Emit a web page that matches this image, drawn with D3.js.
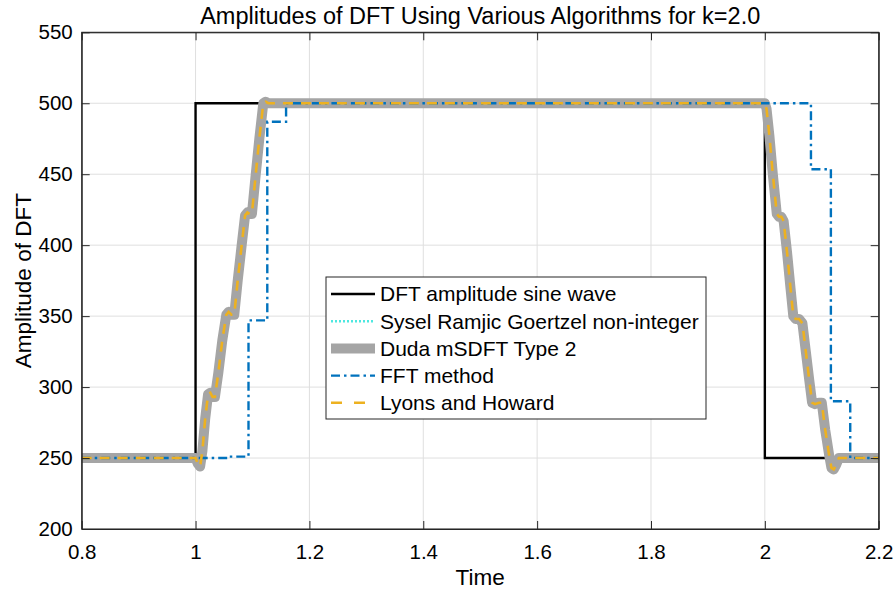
<html>
  <head>
    <script src="https://cdn.jsdelivr.net/npm/d3@7"></script>
    <style>
      body { margin: 0; background: #fff; }
      text { font-family: "Liberation Sans", Arial, sans-serif; fill: #000; }
    </style>
  </head>
  <body>
    <div id="chart"></div>
    <script>
      // axis ticks
      const xTicks = [0.8, 1.0, 1.2, 1.4, 1.6, 1.8, 2.0, 2.2];
      const xTickLabels = ["0.8", "1", "1.2", "1.4", "1.6", "1.8", "2", "2.2"];
      const yTicks = [200, 250, 300, 350, 400, 450, 500, 550];
      const yTickLabels = ["200", "250", "300", "350", "400", "450", "500", "550"];

      // DFT amplitude of the sine wave (step breakpoints)
      const sineTime = [0.8, 1.0, 2.0, 2.2];
      const sineAmp = [250, 500, 250, 250];

      // FFT method (step breakpoints)
      const fftTime = [0.8, 1.0575, 1.093, 1.126, 1.159, 2.081, 2.116, 2.15, 2.2];
      const fftAmp = [250, 251, 347, 487, 500, 453.5, 290, 250, 250];

      // sliding DFT amplitude (Sysel/Ramjic, Duda mSDFT and Lyons/Howard overlap)
      const slideTime = [0.8, 1.0, 1.004, 1.008, 1.012, 1.017, 1.022, 1.026, 1.03, 1.034,
        1.04, 1.047, 1.054, 1.058, 1.063, 1.068, 1.074, 1.081, 1.087, 1.091, 1.095, 1.099,
        1.105, 1.112, 1.119, 1.123, 1.128, 2.0, 2.003, 2.008, 2.014, 2.021, 2.025, 2.029,
        2.033, 2.039, 2.045, 2.05, 2.054, 2.06, 2.066, 2.072, 2.078, 2.083, 2.088, 2.095,
        2.1, 2.106, 2.113, 2.117, 2.121, 2.125, 2.13, 2.2];
      const slideAmp = [250, 250, 246, 244, 255, 278, 295, 296, 293, 293,
        310, 333, 351, 353, 351, 351, 375, 400, 421, 423, 422, 422,
        447, 475, 500, 501, 500, 500, 496, 477, 450, 422, 420, 420,
        417, 395, 370, 350, 348, 348, 345, 325, 305, 289, 288, 289,
        289, 270, 252, 243, 242, 245, 250, 250];

      const seriesNames = [
        "DFT amplitude sine wave",
        "Sysel Ramjic Goertzel non-integer",
        "Duda mSDFT Type 2",
        "FFT method",
        "Lyons and Howard",
      ];

      let margin = { top: 32.3, right: 17.3, bottom: 62, left: 81.7 },
        width = 896 - margin.left - margin.right,
        height = 591 - margin.top - margin.bottom;

      const svgRoot = d3
        .select("#chart")
        .append("svg")
        .attr("width", 896)
        .attr("height", 591);

      const svg = svgRoot
        .append("g")
        .attr("transform", `translate(${margin.left},${margin.top})`);

      let x = d3.scaleLinear().domain([0.8, 2.2]).range([0, width]);
      let y = d3.scaleLinear().domain([200, 550]).range([height, 0]);

      // grid
      svg.append("g")
        .selectAll("line")
        .data(xTicks)
        .join("line")
        .attr("x1", (d) => x(d)).attr("x2", (d) => x(d))
        .attr("y1", 0).attr("y2", height)
        .attr("stroke", "#dfdfdf");
      svg.append("g")
        .selectAll("line")
        .data(yTicks)
        .join("line")
        .attr("y1", (d) => y(d)).attr("y2", (d) => y(d))
        .attr("x1", 0).attr("x2", width)
        .attr("stroke", "#dfdfdf");

      // data lines
      svg.append("defs").append("clipPath").attr("id", "clip")
        .append("rect").attr("width", width).attr("height", height);
      let plot = svg.append("g").attr("clip-path", "url(#clip)");

      const toPts = (ts, vs) => ts.map((t, i) => [t, vs[i]]);
      let stepLine = d3.line().x((d) => x(d[0])).y((d) => y(d[1])).curve(d3.curveStepAfter);
      let line = d3.line().x((d) => x(d[0])).y((d) => y(d[1]));

      plot.append("path")
        .attr("d", stepLine(toPts(sineTime, sineAmp)))
        .attr("fill", "none").attr("stroke", "#000").attr("stroke-width", 2.4);

      plot.append("path")
        .attr("d", line(toPts(slideTime, slideAmp)))
        .attr("fill", "none").attr("stroke", "#4ee8e0").attr("stroke-width", 2.4)
        .attr("stroke-dasharray", "2,3");

      plot.append("path")
        .attr("d", line(toPts(slideTime, slideAmp)))
        .attr("fill", "none").attr("stroke", "#a5a5a5").attr("stroke-width", 10)
        .attr("stroke-linejoin", "round").attr("stroke-linecap", "round");

      plot.append("path")
        .attr("d", stepLine(toPts(fftTime, fftAmp)))
        .attr("fill", "none").attr("stroke", "#0072bd").attr("stroke-width", 2.4)
        .attr("stroke-dasharray", "9,4,2.5,4");

      plot.append("path")
        .attr("d", line(toPts(slideTime, slideAmp)))
        .attr("fill", "none").attr("stroke", "#edb120").attr("stroke-width", 2.6)
        .attr("stroke-dasharray", "10,8");

      // axes (ticks inward, mirrored on top/right)
      const axisColor = "#262626";
      let xAxis = d3.axisBottom(x).tickValues(xTicks).tickSizeInner(-8).tickSizeOuter(0)
        .tickPadding(15).tickFormat((d, i) => xTickLabels[i]);
      let yAxis = d3.axisLeft(y).tickValues(yTicks).tickSizeInner(-8).tickSizeOuter(0)
        .tickPadding(9).tickFormat((d, i) => yTickLabels[i]);

      let xAxisGroup = svg.append("g").attr("transform", `translate(0,${height})`).call(xAxis);
      let yAxisGroup = svg.append("g").call(yAxis);
      let xTop = svg.append("g").call(d3.axisTop(x).tickValues(xTicks).tickSizeInner(-8).tickSizeOuter(0).tickFormat(""));
      let yRight = svg.append("g").attr("transform", `translate(${width},0)`)
        .call(d3.axisRight(y).tickValues(yTicks).tickSizeInner(-8).tickSizeOuter(0).tickFormat(""));

      [xAxisGroup, yAxisGroup, xTop, yRight].forEach((g) => {
        g.select(".domain").attr("stroke", axisColor);
        g.selectAll(".tick line").attr("stroke", axisColor);
        g.selectAll(".tick text")
          .attr("font-size", 20.5)
          .attr("fill", "#000")
          .attr("font-family", '"Liberation Sans", Arial, sans-serif');
      });

      // labels
      svg.append("text")
        .attr("x", width / 2)
        .attr("y", -8.5)
        .attr("text-anchor", "middle")
        .attr("font-size", 23.5)
        .text("Amplitudes of DFT Using Various Algorithms for k=2.0");

      svg.append("text")
        .attr("x", width / 2)
        .attr("y", height + 56)
        .attr("text-anchor", "middle")
        .attr("font-size", 22.5)
        .text("Time");

      svg.append("text")
        .attr("transform", "rotate(-90)")
        .attr("x", -height / 2)
        .attr("y", -51)
        .attr("text-anchor", "middle")
        .attr("font-size", 22.5)
        .text("Amplitude of DFT");

      // legend
      let legendX = 326 - margin.left, legendY = 277 - margin.top;
      let legend = svg.append("g").attr("transform", `translate(${legendX},${legendY})`);
      legend.append("rect")
        .attr("width", 380).attr("height", 142)
        .attr("fill", "#fff").attr("stroke", axisColor);

      let legendStyles = [
        { color: "#000", width: 2.4, dash: null },
        { color: "#4ee8e0", width: 2.4, dash: "2,2" },
        { color: "#a5a5a5", width: 10, dash: null },
        { color: "#0072bd", width: 2.4, dash: "9,4,2.5,4" },
        { color: "#edb120", width: 2.6, dash: "11,12" },
      ];

      let rows = legend.selectAll("g.row")
        .data(seriesNames)
        .join("g")
        .attr("class", "row")
        .attr("transform", (d, i) => `translate(0,${17 + i * 27.2})`);

      rows.append("line")
        .attr("x1", 5).attr("x2", 49)
        .attr("stroke", (d, i) => legendStyles[i].color)
        .attr("stroke-width", (d, i) => legendStyles[i].width)
        .attr("stroke-dasharray", (d, i) => legendStyles[i].dash);

      rows.append("text")
        .attr("x", 54)
        .attr("dy", "0.35em")
        .attr("font-size", 21)
        .text((d) => d);

      // box on top of everything
      svg.append("rect")
        .attr("width", width).attr("height", height)
        .attr("fill", "none").attr("stroke", axisColor);
    </script>
  </body>
</html>
